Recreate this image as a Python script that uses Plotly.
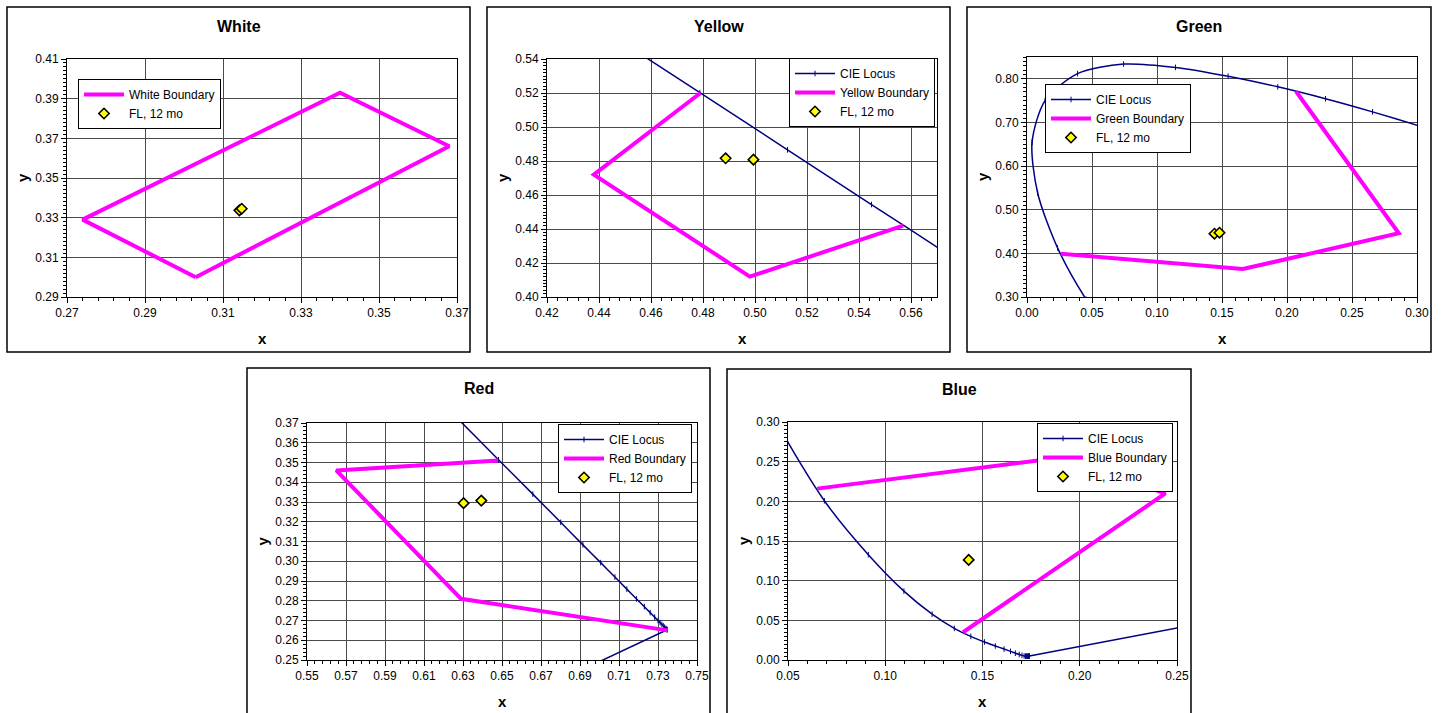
import plotly.graph_objects as go

W, H = 1441, 713
FONT = "Liberation Sans, Arial, sans-serif"

# ---------------- data ----------------
# CIE 1931 2-degree spectral locus, 380-700 nm (5 nm steps)
locus_x = [0.1741, 0.1740, 0.1738, 0.1736, 0.1733, 0.1730, 0.1726, 0.1721, 0.1714, 0.1703,
           0.1689, 0.1669, 0.1644, 0.1611, 0.1566, 0.1510, 0.1440, 0.1355, 0.1241, 0.1096,
           0.0913, 0.0687, 0.0454, 0.0235, 0.0082, 0.0039, 0.0139, 0.0389, 0.0743, 0.1142,
           0.1547, 0.1929, 0.2296, 0.2658, 0.3016, 0.3373, 0.3731, 0.4087, 0.4441, 0.4788,
           0.5125, 0.5448, 0.5752, 0.6029, 0.6270, 0.6482, 0.6658, 0.6801, 0.6915, 0.7006,
           0.7079, 0.7140, 0.7190, 0.7230, 0.7260, 0.7283, 0.7300, 0.7311, 0.7320, 0.7327,
           0.7334, 0.7340, 0.7344, 0.7346, 0.7347]
locus_y = [0.0050, 0.0050, 0.0049, 0.0049, 0.0048, 0.0048, 0.0048, 0.0048, 0.0051, 0.0058,
           0.0069, 0.0086, 0.0109, 0.0138, 0.0177, 0.0227, 0.0297, 0.0399, 0.0578, 0.0868,
           0.1327, 0.2007, 0.2950, 0.4127, 0.5384, 0.6548, 0.7502, 0.8120, 0.8338, 0.8262,
           0.8059, 0.7816, 0.7543, 0.7243, 0.6923, 0.6589, 0.6245, 0.5896, 0.5547, 0.5202,
           0.4866, 0.4544, 0.4242, 0.3965, 0.3725, 0.3514, 0.3340, 0.3197, 0.3083, 0.2993,
           0.2920, 0.2859, 0.2809, 0.2770, 0.2740, 0.2717, 0.2700, 0.2689, 0.2680, 0.2673,
           0.2666, 0.2660, 0.2656, 0.2654, 0.2653]
# line of purples (700 nm back to 380 nm)
purple_x = [0.7347, 0.1741]
purple_y = [0.2653, 0.0050]

white_bx = [0.303, 0.368, 0.340, 0.274, 0.303]
white_by = [0.300, 0.366, 0.393, 0.329, 0.300]
white_flx = [0.3142, 0.3148]
white_fly = [0.3337, 0.3345]

yellow_bx = [0.557, 0.498, 0.438, 0.479]
yellow_by = [0.442, 0.412, 0.472, 0.520]
yellow_flx = [0.4887, 0.4994]
yellow_fly = [0.4816, 0.4808]

green_bx = [0.207, 0.286, 0.166, 0.026]
green_by = [0.771, 0.446, 0.364, 0.399]
green_flx = [0.1442, 0.1481]
green_fly = [0.4450, 0.4473]

red_bx = [0.648, 0.565, 0.629, 0.735]
red_by = [0.351, 0.346, 0.281, 0.265]
red_flx = [0.6303, 0.6394]
red_fly = [0.3294, 0.3307]

blue_bx = [0.065, 0.190, 0.244, 0.140]
blue_by = [0.216, 0.255, 0.210, 0.035]
blue_flx = [0.1429]
blue_fly = [0.1262]

# ---------------- layout helpers ----------------
def fx(p):
    return p / W

def fy(p):
    return 1 - p / H

panels = [
    dict(name="White", bx=white_bx, by=white_by, flx=white_flx, fly=white_fly, locus=False,
         plot=(67, 457, 59, 297), frame=(7, 470, 7, 352),
         xr=[0.27, 0.37], xd=0.02, xm=0.004, yr=[0.29, 0.41], yd=0.02, ym=0.002,
         leg=(78, 79)),
    dict(name="Yellow", bx=yellow_bx, by=yellow_by, flx=yellow_flx, fly=yellow_fly, locus=True,
         plot=(547, 937, 59, 297), frame=(487, 950, 7, 352),
         xr=[0.42, 0.57], xd=0.02, xm=0.004, yr=[0.40, 0.54], yd=0.02, ym=0.002,
         leg=(789, 58)),
    dict(name="Green", bx=green_bx, by=green_by, flx=green_flx, fly=green_fly, locus=True,
         plot=(1027, 1417, 57, 297), frame=(967, 1431, 7, 352),
         xr=[0.0, 0.30], xd=0.05, xm=0.01, yr=[0.30, 0.85], yd=0.10, ym=0.01,
         leg=(1045, 84)),
    dict(name="Red", bx=red_bx, by=red_by, flx=red_flx, fly=red_fly, locus=True,
         plot=(307, 697, 423, 660), frame=(247, 710, 368, 730),
         xr=[0.55, 0.75], xd=0.02, xm=0.004, yr=[0.25, 0.37], yd=0.01, ym=0.002,
         leg=(558, 424)),
    dict(name="Blue", bx=blue_bx, by=blue_by, flx=blue_flx, fly=blue_fly, locus=True,
         plot=(788, 1177, 422, 660), frame=(727, 1191, 369, 730),
         xr=[0.05, 0.25], xd=0.05, xm=0.01, yr=[0.0, 0.30], yd=0.05, ym=0.005,
         leg=(1037, 423)),
]

NAVY = "#000080"
MAGENTA = "#FF00FF"

fig = go.Figure()
layout = dict(
    template="none",
    width=W, height=H, autosize=False,
    margin=dict(l=0, r=0, t=0, b=0, pad=0, autoexpand=False),
    paper_bgcolor="white", plot_bgcolor="white",
    font=dict(family=FONT, size=12, color="black"),
    shapes=[], annotations=[],
)

for i, p in enumerate(panels):
    n = "" if i == 0 else str(i + 1)
    xa, ya = "x" + n, "y" + n
    legname = "legend" + n
    x0, x1, y0, y1 = p["plot"]

    if p["locus"]:
        fig.add_trace(go.Scatter(
            x=locus_x, y=locus_y, xaxis=xa, yaxis=ya, mode="lines+markers",
            name="CIE Locus", legend=legname, legendgroup="locus" + n,
            line=dict(color=NAVY, width=1.5, shape="spline", smoothing=0.8),
            marker=dict(symbol="line-ns", size=4, line=dict(width=1, color=NAVY), color=NAVY),
        ))
        fig.add_trace(go.Scatter(
            x=purple_x, y=purple_y, xaxis=xa, yaxis=ya, mode="lines",
            name="CIE Locus", legend=legname, legendgroup="locus" + n, showlegend=False,
            line=dict(color=NAVY, width=1.5),
        ))
    fig.add_trace(go.Scatter(
        x=p["bx"], y=p["by"], xaxis=xa, yaxis=ya, mode="lines",
        name=p["name"] + " Boundary", legend=legname,
        line=dict(color=MAGENTA, width=4),
    ))
    fig.add_trace(go.Scatter(
        x=p["flx"], y=p["fly"], xaxis=xa, yaxis=ya, mode="markers",
        name="FL, 12 mo", legend=legname,
        marker=dict(symbol="diamond", size=8, color="#FFFF00",
                    line=dict(width=1.6, color="black")),
    ))

    common = dict(
        showline=True, linecolor="black", linewidth=1, mirror=True,
        showgrid=True, gridcolor="#4a4a4a", gridwidth=1, zeroline=False,
        ticks="outside", ticklen=5, tickcolor="black", tickwidth=1,
        tickformat=".2f", tickfont=dict(family=FONT, size=12, color="black"),
        automargin=False,
    )
    layout["xaxis" + n] = dict(
        common, domain=[fx(x0), fx(x1)], anchor=ya, range=p["xr"],
        tick0=p["xr"][0], dtick=p["xd"],
        minor=dict(ticks="outside", ticklen=3, tickcolor="black", dtick=p["xm"],
                   tick0=p["xr"][0], showgrid=False),
    )
    layout["yaxis" + n] = dict(
        common, domain=[fy(y1), fy(y0)], anchor=xa, range=p["yr"],
        tick0=p["yr"][0], dtick=p["yd"],
        minor=dict(ticks="outside", ticklen=3, tickcolor="black", dtick=p["ym"],
                   tick0=p["yr"][0], showgrid=False),
    )
    lx, ly = p["leg"]
    layout[legname] = dict(
        x=fx(lx), y=fy(ly), xanchor="left", yanchor="top",
        xref="paper", yref="paper",
        bgcolor="white", bordercolor="black", borderwidth=1,
        font=dict(family=FONT, size=12, color="black"), itemwidth=40,
        traceorder="normal",
    )

    fx0, fx1, fy0, fy1 = p["frame"]
    layout["shapes"].append(dict(
        type="rect", xref="paper", yref="paper",
        x0=fx(fx0), x1=fx(fx1), y0=fy(fy1), y1=fy(fy0),
        line=dict(color="black", width=1.5), fillcolor="rgba(0,0,0,0)",
    ))
    cx = (fx0 + fx1) / 2
    layout["annotations"].append(dict(
        text="<b>" + p["name"] + "</b>", xref="paper", yref="paper",
        x=fx(cx), y=fy(fy0 + 20), xanchor="center", yanchor="middle",
        showarrow=False, font=dict(family=FONT, size=16, color="black"),
    ))
    layout["annotations"].append(dict(
        text="<b>x</b>", xref="paper", yref="paper",
        x=fx((x0 + x1) / 2), y=fy(y1 + 41), xanchor="center", yanchor="middle",
        showarrow=False, font=dict(family=FONT, size=15, color="black"),
    ))
    layout["annotations"].append(dict(
        text="<b>y</b>", xref="paper", yref="paper",
        x=fx(x0 - 45), y=fy((y0 + y1) / 2), xanchor="center", yanchor="middle",
        textangle=-90, showarrow=False, font=dict(family=FONT, size=15, color="black"),
    ))

fig.update_layout(**layout)
fig.write_html("out.html", config={"displayModeBar": False},
               post_script="document.body.style.margin='0';document.body.style.overflow='hidden';")
